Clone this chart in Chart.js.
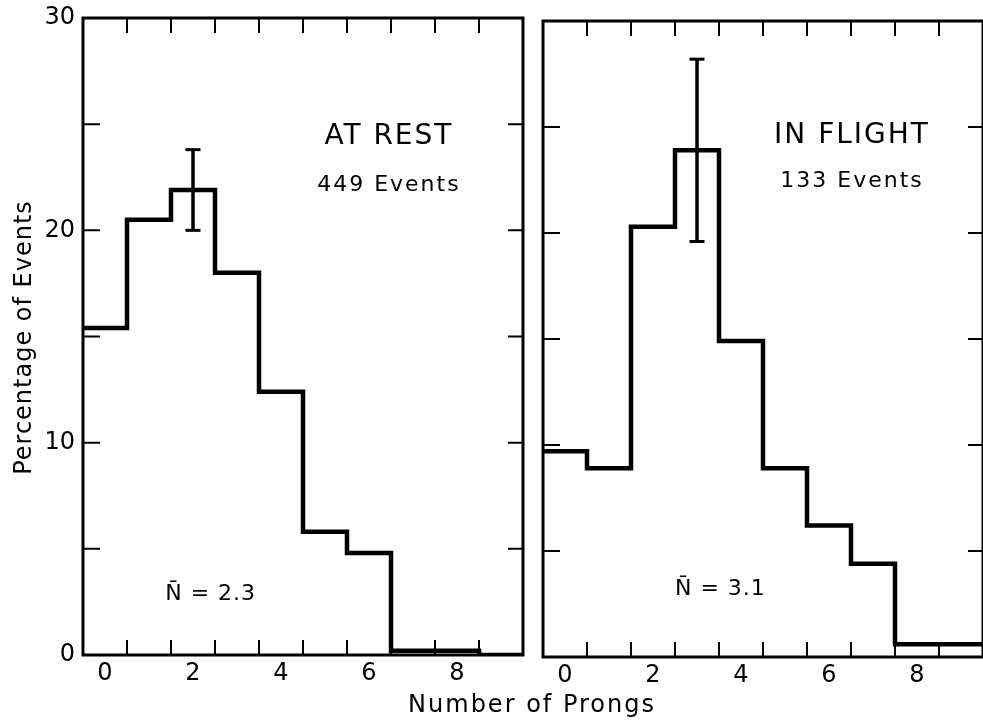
<!DOCTYPE html>
<html>
<head>
<meta charset="utf-8">
<title>Prong distributions</title>
<script src="https://cdn.jsdelivr.net/npm/chart.js@4.4.0/dist/chart.umd.min.js"></script>
<style>
    html, body { margin: 0; padding: 0; background: #ffffff; overflow: hidden; }
    #wrap { position: relative; width: 983px; height: 727px; }
    #wrap canvas { position: absolute; left: 0; top: 0; }
</style>
</head>
<body>
<div id="wrap">
    <canvas id="restChart" width="983" height="727"></canvas>
    <canvas id="flightChart" width="983" height="727"></canvas>
</div>
<script>
// Prong multiplicity histograms - at rest vs in flight

// Bins (number of prongs)
const prongs = [0, 1, 2, 3, 4, 5, 6, 7, 8, 9];

// Percentage of events per bin
const restPercent = [15.4, 20.5, 21.9, 18.0, 12.4, 5.8, 4.8, 0.2, 0.2, 0];
const flightPercent = [9.7, 8.9, 20.3, 23.9, 14.9, 8.9, 6.2, 4.4, 0.6, 0.6];

// Error bars (one per panel)
const restErrProng = 2;
const restErrRange = [20.0, 23.8];
const flightErrProng = 3;
const flightErrRange = [19.6, 28.2];

// Tick labels and tick marks
const xTickLabels = [0, 2, 4, 6, 8];
const yTickLabels = [0, 10, 20, 30];
const xTickMarks = [0.5, 1.5, 2.5, 3.5, 4.5, 5.5, 6.5, 7.5, 8.5];
const yTickMarks = [5, 10, 15, 20, 25];

const INK = '#000000';
const FONT = "'DejaVu Sans', sans-serif";

// histogram edges -> points for a stepped line
function stepPoints(values) {
    const pts = prongs.map((p, i) => ({ x: p - 0.5, y: values[i] }));
    pts.push({ x: prongs[prongs.length - 1] + 0.5, y: values[values.length - 1] });
    return pts;
}

// frame + inward tick marks, like the hand drawn plot
const panelFrame = {
    id: 'panelFrame',
    afterDraw(chart) {
        const { ctx, chartArea: a, scales: { x, y } } = chart;
        ctx.save();
        ctx.strokeStyle = INK;
        ctx.lineWidth = 2;
        ctx.beginPath();
        xTickMarks.forEach(v => {
            const px = x.getPixelForValue(v);
            ctx.moveTo(px, a.top);
            ctx.lineTo(px, a.top + 15);
            ctx.moveTo(px, a.bottom);
            ctx.lineTo(px, a.bottom - 15);
        });
        yTickMarks.forEach(v => {
            const py = y.getPixelForValue(v);
            ctx.moveTo(a.left, py);
            ctx.lineTo(a.left + 17, py);
            ctx.moveTo(a.right, py);
            ctx.lineTo(a.right - 15, py);
        });
        ctx.stroke();
        ctx.lineWidth = 3;
        ctx.strokeRect(a.left, a.top, a.right - a.left, a.bottom - a.top);
        ctx.restore();
    }
};

// free text: items in data coords, or raw pixels when px is set
const panelText = {
    id: 'panelText',
    afterDraw(chart, args, opts) {
        const { ctx, scales: { x, y } } = chart;
        (opts.items || []).forEach(it => {
            ctx.save();
            ctx.fillStyle = INK;
            ctx.font = `${it.size}px ${FONT}`;
            ctx.textAlign = 'center';
            ctx.textBaseline = 'middle';
            ctx.letterSpacing = (it.spacing || 0) + 'px';
            const px = it.px ? it.x : x.getPixelForValue(it.x);
            const py = it.px ? it.y : y.getPixelForValue(it.y);
            ctx.translate(px, py);
            if (it.rotate) ctx.rotate(it.rotate);
            ctx.fillText(it.text, (it.spacing || 0) / 2, 0);
            ctx.restore();
        });
    }
};

function makePanel(canvasId, cfg) {
    const ctx = document.getElementById(canvasId);
    return new Chart(ctx, {
        type: 'line',
        data: {
            datasets: [{
                data: stepPoints(cfg.values),
                stepped: true,
                borderColor: INK,
                borderWidth: 4.5,
                borderJoinStyle: 'miter',
                pointRadius: 0,
                fill: false
            }, {
                data: [
                    { x: cfg.errProng, y: cfg.errRange[0] },
                    { x: cfg.errProng, y: cfg.errRange[1] }
                ],
                borderColor: INK,
                borderWidth: 3.5,
                pointStyle: 'line',
                pointRadius: 7.5,
                pointBorderWidth: 3,
                pointBorderColor: INK,
                fill: false
            }]
        },
        options: {
            responsive: false,
            animation: false,
            layout: { padding: cfg.padding, autoPadding: false },
            plugins: {
                legend: { display: false },
                tooltip: { enabled: false },
                panelText: { items: cfg.texts }
            },
            scales: {
                x: {
                    type: 'linear',
                    min: -0.5,
                    max: 9.5,
                    grid: { display: false, drawTicks: false },
                    border: { display: false },
                    afterBuildTicks: s => { s.ticks = xTickLabels.map(v => ({ value: v })); },
                    afterFit: s => {
                        s.height = cfg.xAxisHeight;
                        s.paddingLeft = 0;
                        s.paddingRight = 0;
                    },
                    ticks: {
                        color: INK,
                        font: { family: FONT, size: 24 },
                        padding: 4,
                        maxRotation: 0,
                        autoSkip: false
                    }
                },
                y: {
                    type: 'linear',
                    min: 0,
                    max: 30,
                    grid: { display: false, drawTicks: false },
                    border: { display: false },
                    afterBuildTicks: s => { s.ticks = yTickLabels.map(v => ({ value: v })); },
                    afterFit: s => {
                        s.width = cfg.yAxisWidth;
                        s.paddingTop = 0;
                        s.paddingBottom = 0;
                    },
                    ticks: {
                        display: cfg.showYLabels,
                        color: INK,
                        font: { family: FONT, size: 24 },
                        padding: 8
                    }
                }
            }
        },
        plugins: [panelFrame, panelText]
    });
}

makePanel('restChart', {
    values: restPercent,
    errProng: restErrProng,
    errRange: restErrRange,
    padding: { top: 18, right: 460, left: 0, bottom: 0 },
    xAxisHeight: 72,
    yAxisWidth: 83,
    showYLabels: true,
    texts: [
        { text: 'AT REST', x: 6.43, y: 24.4, size: 28, spacing: 2 },
        { text: '449 Events', x: 6.43, y: 22.1, size: 22, spacing: 2 },
        { text: 'N\u0304 = 2.3', x: 2.39, y: 2.85, size: 22, spacing: 1 },
        { text: 'Percentage of Events', x: 25, y: 338, px: true, size: 24, spacing: 1, rotate: -Math.PI / 2 },
        { text: 'Number of Prongs', x: 531, y: 706, px: true, size: 24, spacing: 2 }
    ]
});

makePanel('flightChart', {
    values: flightPercent,
    errProng: flightErrProng,
    errRange: flightErrRange,
    padding: { top: 21, right: 0, left: 543, bottom: 0 },
    xAxisHeight: 70,
    yAxisWidth: 0,
    showYLabels: false,
    texts: [
        { text: 'IN FLIGHT', x: 6.5, y: 24.6, size: 28, spacing: 2 },
        { text: '133 Events', x: 6.5, y: 22.45, size: 22, spacing: 2 },
        { text: 'N\u0304 = 3.1', x: 3.52, y: 3.2, size: 22, spacing: 1 }
    ]
});
</script>
</body>
</html>
